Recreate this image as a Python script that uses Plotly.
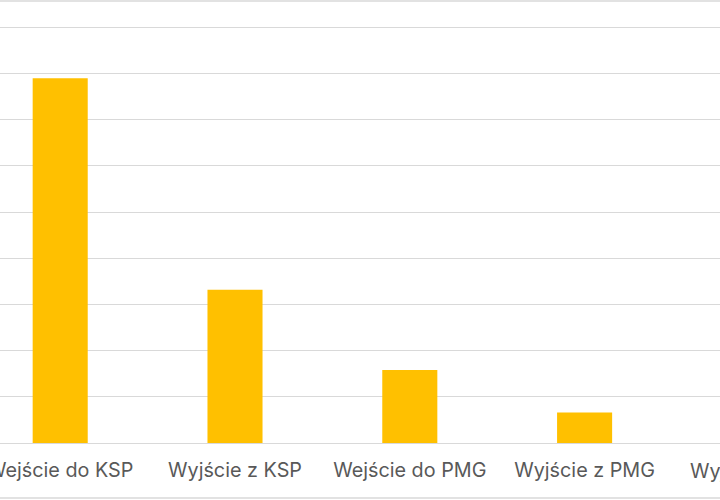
import plotly.graph_objects as go

categories = ["Wejście do KSP", "Wyjście z KSP", "Wejście do PMG", "Wyjście z PMG", "Wyjście z OSD"]
values = [7.90, 3.32, 1.58, 0.66, 0.30]

# visible window of the (cropped) chart, in category units
x_range = [-0.3444, 3.7746]
y_range = [0, 9.03]

BAR = "#FFC000"
GRID = "#D9D9D9"
TEXT = "#595959"
FONT = "Inter, Noto Sans, sans-serif"
SIZE = 19.8

W, H = 720, 500
MT, MB = 26, 57
PH = H - MT - MB

fig = go.Figure(go.Bar(
    x=list(range(len(categories))),
    y=values,
    marker=dict(color=BAR, line=dict(width=0)),
    width=0.315,
))

visible = [i for i in range(len(categories)) if x_range[0] <= i <= x_range[1]]

fig.update_layout(
    template="none",
    width=W, height=H,
    margin=dict(l=0, r=0, t=MT, b=MB, pad=0),
    paper_bgcolor="white", plot_bgcolor="white",
    showlegend=False,
    font=dict(family=FONT, size=SIZE, color=TEXT),
    xaxis=dict(range=x_range, tickvals=visible,
               ticktext=[categories[i] for i in visible],
               showgrid=False, zeroline=False, showline=False,
               ticks="", automargin=False, fixedrange=True,
               ticklabeloverflow="allow", ticklabelstandoff=13,
               tickfont=dict(family=FONT, size=SIZE, color=TEXT)),
    yaxis=dict(range=y_range, dtick=1, showgrid=True, gridcolor=GRID,
               gridwidth=1, zeroline=True, zerolinecolor=GRID, zerolinewidth=1,
               showticklabels=False, ticks="", automargin=False, showline=False),
)

# labels of categories lying outside the visible window (cut by the crop)
span = x_range[1] - x_range[0]
for i in range(len(categories)):
    if i not in visible:
        fig.add_annotation(x=(i - x_range[0]) / span, xref="paper", xanchor="center",
                           y=0, yref="paper", yanchor="top", yshift=-14,
                           text=categories[i], showarrow=False,
                           font=dict(family=FONT, size=SIZE, color=TEXT))

# chart-area border lines (top and bottom)
top_y = (H - MB - 1) / PH
bot_y = (H - MB - 498) / PH
fig.add_shape(type="line", xref="paper", yref="paper", x0=-0.01, x1=1.01,
              y0=top_y, y1=top_y, line=dict(color=GRID, width=1.5))
fig.add_shape(type="line", xref="paper", yref="paper", x0=-0.01, x1=1.01,
              y0=bot_y, y1=bot_y, line=dict(color=GRID, width=1.5))

fig.write_html("out.html")
